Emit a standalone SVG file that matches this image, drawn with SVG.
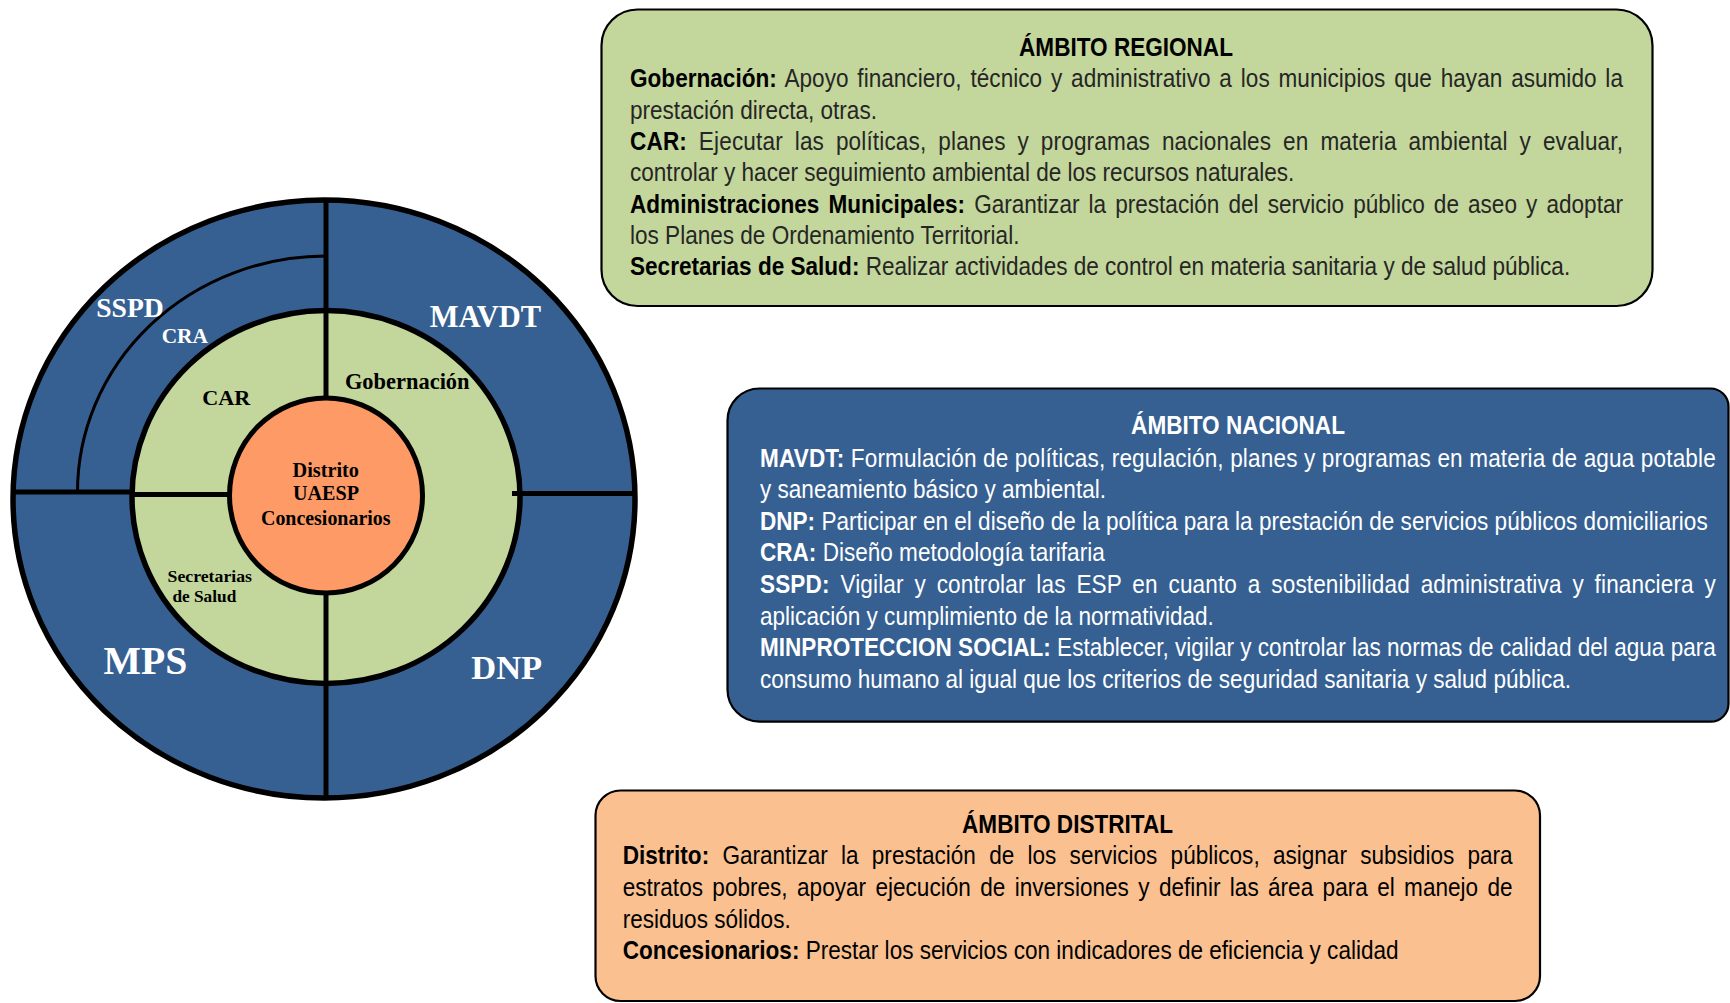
<svg xmlns="http://www.w3.org/2000/svg" width="1730" height="1003" viewBox="0 0 1730 1003">
<style>
.bx{stroke:#000;stroke-width:2.2}
.t{font-family:"Liberation Sans",Arial,sans-serif;font-size:25.5px}
.b{font-weight:bold}
.k{fill:#000}
.g{fill:#262626}
.w{fill:#fff}
.c{font-family:"Liberation Serif","Times New Roman",serif;font-weight:bold}
.ln{stroke:#000;stroke-width:5;fill:none}
</style>
<rect width="1730" height="1003" fill="#fff"/>

<g id="ring-outer">
<ellipse cx="324" cy="499" rx="311" ry="299" fill="#366092" stroke="#000" stroke-width="5.5"/>
</g>
<g id="ring-middle">
<ellipse cx="326" cy="497" rx="194" ry="186.5" fill="#C3D69B" stroke="#000" stroke-width="5.5"/>
</g>
<g id="dividers">
<line class="ln" x1="326" y1="200" x2="326" y2="798"/>
<line class="ln" x1="13" y1="492" x2="132" y2="492"/>
<line class="ln" x1="132" y1="494.5" x2="232" y2="494.5"/>
<line class="ln" x1="512" y1="493.5" x2="635" y2="493.5"/>
<path d="M77.5 492 A248.5 236 0 0 1 326 256" fill="none" stroke="#000" stroke-width="3"/>
</g>
<g id="core">
<ellipse cx="326" cy="495.5" rx="96.5" ry="97.5" fill="#FD9A66" stroke="#000" stroke-width="5"/>
<text class="c k" x="292.6" y="477.2" font-size="20" textLength="66.4" lengthAdjust="spacingAndGlyphs">Distrito</text>
<text class="c k" x="293" y="500.4" font-size="20" textLength="66" lengthAdjust="spacingAndGlyphs">UAESP</text>
<text class="c k" x="261" y="524.8" font-size="20" textLength="129.5" lengthAdjust="spacingAndGlyphs">Concesionarios</text>
</g>
<g id="labels-outer">
<text class="c w" x="96.2" y="316.8" font-size="28" textLength="67.5" lengthAdjust="spacingAndGlyphs">SSPD</text>
<text class="c w" x="161.7" y="342.9" font-size="22" textLength="46.3" lengthAdjust="spacingAndGlyphs">CRA</text>
<text class="c w" x="429.8" y="327.1" font-size="31" textLength="111.2" lengthAdjust="spacingAndGlyphs">MAVDT</text>
<text class="c w" x="103.6" y="674" font-size="40" textLength="83.8" lengthAdjust="spacingAndGlyphs">MPS</text>
<text class="c w" x="471.3" y="678.6" font-size="34.5" textLength="70.9" lengthAdjust="spacingAndGlyphs">DNP</text>
</g>
<g id="labels-middle">
<text class="c k" x="344.9" y="388.5" font-size="22.5" textLength="124.7" lengthAdjust="spacingAndGlyphs">Gobernación</text>
<text class="c k" x="202.3" y="405" font-size="22" textLength="48.1" lengthAdjust="spacingAndGlyphs">CAR</text>
<text class="c k" x="167.5" y="582" font-size="17.5" textLength="84.5" lengthAdjust="spacingAndGlyphs">Secretarias</text>
<text class="c k" x="172.4" y="601.5" font-size="17.5" textLength="63.9" lengthAdjust="spacingAndGlyphs">de Salud</text>
</g>

<g id="box-regional">
<rect class="bx" x="601.5" y="9.5" width="1051" height="296.5" rx="36" fill="#C3D69B"/>
<text class="t b k" transform="translate(1126 55.5) scale(0.885 1)" text-anchor="middle">ÁMBITO REGIONAL</text>
<text class="t" transform="translate(630 87.3) scale(0.885 1)" textLength="1122" lengthAdjust="spacing" style="word-spacing:2.9px"><tspan class="b k">Gobernación:</tspan><tspan class="g"> Apoyo financiero, técnico y administrativo a los municipios que hayan asumido la</tspan></text>
<text class="t g" transform="translate(630 118.6) scale(0.885 1)">prestación directa, otras.</text>
<text class="t" transform="translate(630 149.9) scale(0.885 1)" textLength="1122" lengthAdjust="spacing" style="word-spacing:6.2px"><tspan class="b k">CAR:</tspan><tspan class="g"> Ejecutar las políticas, planes y programas nacionales en materia ambiental y evaluar,</tspan></text>
<text class="t g" transform="translate(630 181.2) scale(0.885 1)">controlar y hacer seguimiento ambiental de los recursos naturales.</text>
<text class="t" transform="translate(630 212.5) scale(0.885 1)" textLength="1122" lengthAdjust="spacing" style="word-spacing:3.2px"><tspan class="b k">Administraciones Municipales:</tspan><tspan class="g"> Garantizar la prestación del servicio público de aseo y adoptar</tspan></text>
<text class="t g" transform="translate(630 243.8) scale(0.885 1)">los Planes de Ordenamiento Territorial.</text>
<text class="t" transform="translate(630 275.1) scale(0.885 1)"><tspan class="b k">Secretarias de Salud:</tspan><tspan class="g"> Realizar actividades de control en materia sanitaria y de salud pública.</tspan></text>
</g>

<g id="box-nacional">
<path class="bx" d="M759.5 388.5 H1710.5 A18 18 0 0 1 1728.5 406.5 V703.7 A18 18 0 0 1 1710.5 721.7 H759.5 A32 32 0 0 1 727.5 689.7 V420.5 A32 32 0 0 1 759.5 388.5 Z" fill="#366092"/>
<text class="t b w" transform="translate(1238 434) scale(0.885 1)" text-anchor="middle">ÁMBITO NACIONAL</text>
<text class="t w" transform="translate(760 466.6) scale(0.885 1)" textLength="1080" lengthAdjust="spacing"><tspan class="b">MAVDT:</tspan> Formulación de políticas, regulación, planes y programas en materia de agua potable</text>
<text class="t w" transform="translate(760 498.2) scale(0.885 1)">y saneamiento básico y ambiental.</text>
<text class="t w" transform="translate(760 529.8) scale(0.885 1)"><tspan class="b">DNP:</tspan> Participar en el diseño de la política para la prestación de servicios públicos domiciliarios</text>
<text class="t w" transform="translate(760 561.4) scale(0.885 1)"><tspan class="b">CRA:</tspan> Diseño metodología tarifaria</text>
<text class="t w" transform="translate(760 593) scale(0.885 1)" textLength="1080" lengthAdjust="spacing" style="word-spacing:5px"><tspan class="b">SSPD:</tspan> Vigilar y controlar las ESP en cuanto a sostenibilidad administrativa y financiera y</text>
<text class="t w" transform="translate(760 624.6) scale(0.885 1)">aplicación y cumplimiento de la normatividad.</text>
<text class="t w" transform="translate(760 656.2) scale(0.885 1)" textLength="1080" lengthAdjust="spacing"><tspan class="b">MINPROTECCION SOCIAL:</tspan> Establecer, vigilar y controlar las normas de calidad del agua para</text>
<text class="t w" transform="translate(760 687.8) scale(0.885 1)">consumo humano al igual que los criterios de seguridad sanitaria y salud pública.</text>
</g>

<g id="box-distrital">
<rect class="bx" x="595.5" y="790.5" width="944.5" height="210.5" rx="25" fill="#FAC090"/>
<text class="t b k" transform="translate(1067.5 832.6) scale(0.885 1)" text-anchor="middle">ÁMBITO DISTRITAL</text>
<text class="t k" transform="translate(622.7 864.3) scale(0.885 1)" textLength="1005.6" lengthAdjust="spacing" style="word-spacing:7.9px"><tspan class="b">Distrito:</tspan> Garantizar la prestación de los servicios públicos, asignar subsidios para</text>
<text class="t k" transform="translate(622.7 896) scale(0.885 1)" textLength="1005.6" lengthAdjust="spacing" style="word-spacing:3.5px">estratos pobres, apoyar ejecución de inversiones y definir las área para el manejo de</text>
<text class="t k" transform="translate(622.7 927.7) scale(0.885 1)">residuos sólidos.</text>
<text class="t k" transform="translate(622.7 959.4) scale(0.885 1)"><tspan class="b">Concesionarios:</tspan> Prestar los servicios con indicadores de eficiencia y calidad</text>
</g>
</svg>
